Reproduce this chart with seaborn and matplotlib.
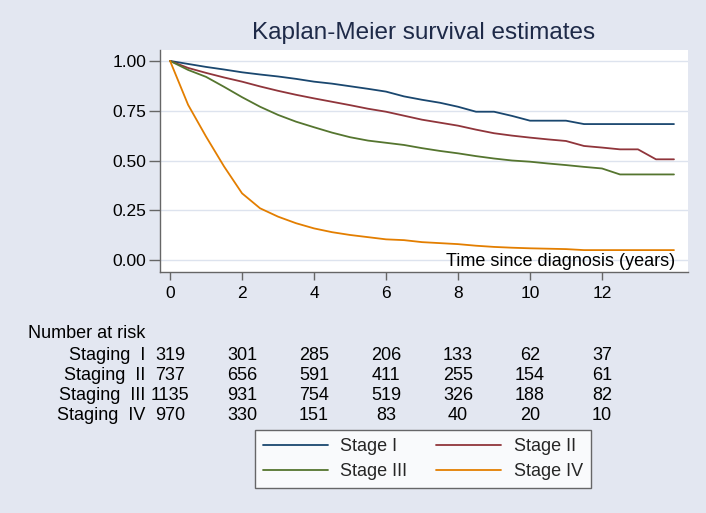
import numpy as np
import pandas as pd
import matplotlib
matplotlib.use("Agg")
import matplotlib.pyplot as plt
import seaborn as sns
from matplotlib.lines import Line2D

# survival estimates (every half year)
years = [0, 0.5, 1, 1.5, 2, 2.5, 3, 3.5, 4, 4.5, 5, 5.5, 6, 6.5, 7,
         7.5, 8, 8.5, 9, 9.5, 10, 10.5, 11, 11.5, 12, 12.5, 13, 13.5, 14]

stage_1 = [1.00, 0.985, 0.97, 0.957, 0.943, 0.932, 0.922, 0.91, 0.896, 0.886,
           0.873, 0.86, 0.846, 0.822, 0.805, 0.79, 0.77, 0.745, 0.745, 0.724,
           0.70, 0.70, 0.70, 0.683, 0.683, 0.683, 0.683, 0.683, 0.683]
stage_2 = [1.00, 0.965, 0.94, 0.917, 0.896, 0.872, 0.85, 0.83, 0.812, 0.795,
           0.778, 0.76, 0.745, 0.725, 0.705, 0.69, 0.675, 0.655, 0.637, 0.625,
           0.615, 0.606, 0.598, 0.573, 0.565, 0.556, 0.556, 0.506, 0.506]
stage_3 = [1.00, 0.955, 0.92, 0.87, 0.818, 0.77, 0.729, 0.695, 0.667, 0.64,
           0.617, 0.60, 0.589, 0.578, 0.562, 0.548, 0.536, 0.522, 0.51, 0.50,
           0.494, 0.485, 0.477, 0.468, 0.46, 0.43, 0.43, 0.43, 0.43]
stage_4 = [1.00, 0.78, 0.62, 0.47, 0.335, 0.26, 0.218, 0.185, 0.159, 0.14,
           0.126, 0.115, 0.104, 0.10, 0.09, 0.085, 0.08, 0.072, 0.066, 0.062,
           0.059, 0.057, 0.055, 0.05, 0.05, 0.05, 0.05, 0.05, 0.05]

stage_names = ["Stage I", "Stage II", "Stage III", "Stage IV"]
colors = ["#1a476f", "#90353b", "#55752f", "#e37e00"]

# number at risk table
risk_times = [0, 2, 4, 6, 8, 10, 12]
risk_labels = ["Staging  I", "Staging  II", "Staging  III", "Staging  IV"]
risk_counts = [
    [319, 301, 285, 206, 133, 62, 37],
    [737, 656, 591, 411, 255, 154, 61],
    [1135, 931, 754, 519, 326, 188, 82],
    [970, 330, 151, 83, 40, 20, 10],
]

bg = "#e3e7f1"
sns.set_theme(style="white")
plt.rcParams["font.family"] = ["Liberation Sans", "DejaVu Sans"]

df = pd.concat([
    pd.DataFrame({"years": years, "survival": vals, "stage": name})
    for name, vals in zip(stage_names, [stage_1, stage_2, stage_3, stage_4])
], ignore_index=True)

fig = plt.figure(figsize=(7.06, 5.13), dpi=100, facecolor=bg)
ax = fig.add_axes([160 / 706, 1 - 272 / 513, 528 / 706, 222 / 513])
ax.set_facecolor("white")

sns.lineplot(data=df, x="years", y="survival", hue="stage",
             palette=colors, hue_order=stage_names, linewidth=1.3,
             legend=False, ax=ax)

ax.set_xlim(-0.28, 14.39)
ax.set_ylim(-0.06, 1.055)
ax.set_xticks(risk_times)
ax.set_yticks([0, 0.25, 0.5, 0.75, 1.0])
ax.set_yticklabels(["0.00", "0.25", "0.50", "0.75", "1.00"])
ax.yaxis.grid(True, color="#dde3ee", linewidth=1.0)
ax.set_axisbelow(True)
ax.set_xlabel("")
ax.set_ylabel("")
for side in ["top", "right"]:
    ax.spines[side].set_visible(False)
for side in ["left", "bottom"]:
    ax.spines[side].set_color("#666666")
    ax.spines[side].set_linewidth(1.0)
ax.tick_params(axis="y", direction="out", length=8, width=1.0,
               color="#666666", labelsize=12.5, labelcolor="black", pad=2)
ax.tick_params(axis="x", direction="out", length=6, width=1.0,
               color="#666666", labelsize=12.5, labelcolor="black", pad=4)
ax.tick_params(axis="both", which="both", bottom=True, left=True)

ax.text(0.975, 0.008, "Time since diagnosis (years)", transform=ax.transAxes,
        ha="right", va="bottom", fontsize=13, color="black")

fig.text(424 / 706, 1 - 33 / 513, "Kaplan-Meier survival estimates",
         ha="center", va="center", fontsize=17.5, color="#1e2a48")

# number at risk
trans = matplotlib.transforms.blended_transform_factory(ax.transData, fig.transFigure)
fig.text(28 / 706, 1 - 334 / 513, "Number at risk", ha="left", va="center",
         fontsize=13, color="black")
row_y = [355, 375, 396, 416]
for label, counts, yp in zip(risk_labels, risk_counts, row_y):
    fig.text(145 / 706, 1 - yp / 513, label, ha="right", va="center",
             fontsize=13, color="black")
    for t, n in zip(risk_times, counts):
        ax.text(t, 1 - yp / 513, str(n), transform=trans, ha="center",
                va="center", fontsize=13, color="black")

# legend filled column-wise: I, III | II, IV
order = [0, 2, 1, 3]
handles = [Line2D([0], [0], color=colors[i], linewidth=1.3) for i in order]
labels = [stage_names[i] for i in order]
leg = fig.legend(handles, labels, ncol=2, loc="center",
                 bbox_to_anchor=(423 / 706, 1 - 459 / 513),
                 frameon=True, fancybox=False, fontsize=13,
                 handlelength=3.6, handletextpad=0.7, columnspacing=1.6,
                 borderpad=0.45, labelspacing=0.45, borderaxespad=0)
leg.get_frame().set_edgecolor("#444444")
leg.get_frame().set_linewidth(1.0)
leg.get_frame().set_facecolor("white")

fig.savefig("out.png", dpi=100, facecolor=bg)
